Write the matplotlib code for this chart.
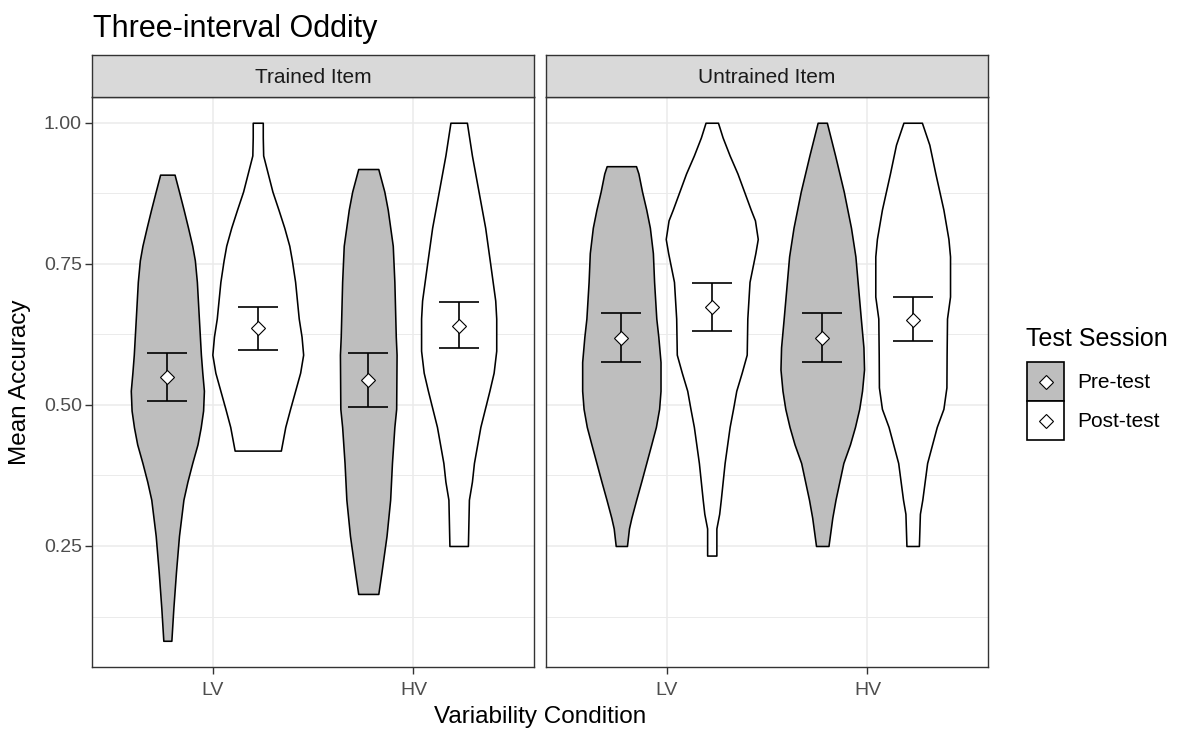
"""
Three-interval oddity: mean accuracy by variability condition, split by
trained / untrained item, pre-test vs post-test violins with mean +/- CI.
"""

import matplotlib.pyplot as plt
from matplotlib.patches import Rectangle

plt.rcParams["font.family"] = ["Liberation Sans", "DejaVu Sans"]

W_PX, H_PX = 1189, 731

CONDITIONS = ["LV", "HV"]
PANELS = ["Trained Item", "Untrained Item"]
SESSIONS = ["Pre-test", "Post-test"]
SESSION_FILL = {"Pre-test": "#BEBEBE", "Post-test": "#FFFFFF"}

# violin outlines: accuracy level and half-width (x units), bottom -> top
trained_lv_pre_y = [0.082, 0.14, 0.204, 0.268, 0.332, 0.364, 0.397, 0.43, 0.46, 0.49, 0.525,
                    0.557, 0.589, 0.653, 0.718, 0.756, 0.782, 0.814, 0.846, 0.878, 0.908]
trained_lv_pre_w = [0.02, 0.03, 0.043, 0.058, 0.08, 0.10, 0.124, 0.15, 0.166, 0.178, 0.182,
                    0.174, 0.167, 0.157, 0.147, 0.137, 0.124, 0.103, 0.081, 0.058, 0.036]

trained_lv_post_y = [0.419, 0.461, 0.493, 0.525, 0.557, 0.589, 0.621, 0.653, 0.718, 0.756,
                     0.782, 0.814, 0.846, 0.878, 0.91, 0.942, 0.974, 1.0]
trained_lv_post_w = [0.115, 0.137, 0.161, 0.186, 0.211, 0.226, 0.218, 0.204, 0.186, 0.17,
                     0.157, 0.132, 0.103, 0.073, 0.05, 0.027, 0.025, 0.025]

trained_hv_pre_y = [0.165, 0.204, 0.268, 0.332, 0.397, 0.461, 0.493, 0.589, 0.621, 0.718,
                    0.782, 0.846, 0.878, 0.918]
trained_hv_pre_w = [0.05, 0.066, 0.091, 0.109, 0.118, 0.13, 0.139, 0.141, 0.137, 0.13,
                    0.122, 0.097, 0.08, 0.05]

trained_hv_post_y = [0.25, 0.332, 0.364, 0.397, 0.461, 0.525, 0.557, 0.596, 0.653, 0.685,
                     0.75, 0.814, 0.878, 0.942, 1.0]
trained_hv_post_w = [0.046, 0.051, 0.066, 0.076, 0.108, 0.153, 0.174, 0.187, 0.187, 0.182,
                     0.157, 0.132, 0.099, 0.066, 0.041]

untrained_lv_pre_y = [0.25, 0.281, 0.3, 0.332, 0.364, 0.397, 0.43, 0.461, 0.493, 0.525,
                      0.576, 0.621, 0.653, 0.718, 0.769, 0.814, 0.846, 0.878, 0.91, 0.923]
untrained_lv_pre_w = [0.028, 0.038, 0.05, 0.074, 0.099, 0.124, 0.149, 0.172, 0.188, 0.195,
                      0.195, 0.184, 0.174, 0.163, 0.157, 0.142, 0.124, 0.103, 0.085, 0.073]

untrained_lv_post_y = [0.233, 0.281, 0.307, 0.332, 0.397, 0.461, 0.493, 0.525, 0.557, 0.589,
                       0.653, 0.718, 0.769, 0.794, 0.827, 0.846, 0.878, 0.91, 0.942, 0.974, 1.0]
untrained_lv_post_w = [0.023, 0.023, 0.037, 0.045, 0.064, 0.089, 0.106, 0.122, 0.149, 0.174,
                       0.177, 0.188, 0.217, 0.229, 0.215, 0.194, 0.161, 0.128, 0.089, 0.054, 0.031]

untrained_hv_pre_y = [0.25, 0.3, 0.332, 0.397, 0.43, 0.461, 0.493, 0.525, 0.563, 0.602,
                      0.653, 0.718, 0.763, 0.814, 0.878, 0.942, 1.0]
untrained_hv_pre_w = [0.031, 0.05, 0.066, 0.105, 0.138, 0.163, 0.184, 0.198, 0.208, 0.205,
                      0.192, 0.176, 0.165, 0.143, 0.107, 0.064, 0.023]

untrained_hv_post_y = [0.25, 0.307, 0.332, 0.397, 0.461, 0.493, 0.531, 0.589, 0.653, 0.692,
                       0.763, 0.794, 0.846, 0.91, 0.961, 1.0]
untrained_hv_post_w = [0.031, 0.036, 0.048, 0.072, 0.12, 0.153, 0.168, 0.169, 0.171, 0.186,
                       0.186, 0.178, 0.153, 0.113, 0.083, 0.046]

# means and confidence limits, ordered [LV, HV]
trained_pre_mean = [0.549, 0.545]
trained_pre_lo = [0.507, 0.497]
trained_pre_hi = [0.592, 0.592]
trained_post_mean = [0.636, 0.640]
trained_post_lo = [0.598, 0.601]
trained_post_hi = [0.674, 0.683]

untrained_pre_mean = [0.619, 0.619]
untrained_pre_lo = [0.576, 0.576]
untrained_pre_hi = [0.662, 0.662]
untrained_post_mean = [0.674, 0.651]
untrained_post_lo = [0.631, 0.613]
untrained_post_hi = [0.716, 0.692]

VIOLINS = {
    ("Trained Item", "LV", "Pre-test"): (trained_lv_pre_y, trained_lv_pre_w),
    ("Trained Item", "LV", "Post-test"): (trained_lv_post_y, trained_lv_post_w),
    ("Trained Item", "HV", "Pre-test"): (trained_hv_pre_y, trained_hv_pre_w),
    ("Trained Item", "HV", "Post-test"): (trained_hv_post_y, trained_hv_post_w),
    ("Untrained Item", "LV", "Pre-test"): (untrained_lv_pre_y, untrained_lv_pre_w),
    ("Untrained Item", "LV", "Post-test"): (untrained_lv_post_y, untrained_lv_post_w),
    ("Untrained Item", "HV", "Pre-test"): (untrained_hv_pre_y, untrained_hv_pre_w),
    ("Untrained Item", "HV", "Post-test"): (untrained_hv_post_y, untrained_hv_post_w),
}
SUMMARY = {
    ("Trained Item", "Pre-test"): (trained_pre_mean, trained_pre_lo, trained_pre_hi),
    ("Trained Item", "Post-test"): (trained_post_mean, trained_post_lo, trained_post_hi),
    ("Untrained Item", "Pre-test"): (untrained_pre_mean, untrained_pre_lo, untrained_pre_hi),
    ("Untrained Item", "Post-test"): (untrained_post_mean, untrained_post_lo, untrained_post_hi),
}

DODGE = 0.225
CAP = 0.1
GRID = "#EBEBEB"
BORDER = "#333333"
TICK_TXT = "#4D4D4D"


def px_axes(fig, x0, y0, x1, y1):
    """Axes placed by pixel box (top-left origin)."""
    return fig.add_axes([x0 / W_PX, 1 - y1 / H_PX, (x1 - x0) / W_PX, (y1 - y0) / H_PX])


def draw_panel(ax, panel, show_y):
    ax.set_xlim(0.4, 2.6)
    ax.set_ylim(0.035, 1.0465)
    ax.set_yticks([0.25, 0.5, 0.75, 1.0])
    ax.set_yticks([0.125, 0.375, 0.625, 0.875], minor=True)
    ax.set_xticks([1, 2])
    ax.set_xticklabels(CONDITIONS)
    ax.grid(which="major", color=GRID, lw=1.1)
    ax.grid(which="minor", axis="y", color=GRID, lw=0.7)
    ax.set_axisbelow(True)
    for sp in ax.spines.values():
        sp.set_color(BORDER)
        sp.set_linewidth(1.0)
    ax.tick_params(axis="both", which="major", length=4.8, color=BORDER, width=1.0,
                   labelsize=14, labelcolor=TICK_TXT)
    ax.tick_params(axis="x", which="major", pad=5.5)
    ax.tick_params(axis="y", which="major", pad=2.5)
    ax.tick_params(axis="y", which="minor", length=0)
    if not show_y:
        ax.tick_params(axis="y", which="major", length=0, labelleft=False)
    else:
        ax.set_yticklabels(["0.25", "0.50", "0.75", "1.00"])

    for i, cond in enumerate(CONDITIONS):
        xc = i + 1
        for session, off in zip(SESSIONS, [-DODGE, DODGE]):
            ys, ws = VIOLINS[(panel, cond, session)]
            xm = xc + off
            ax.fill_betweenx(ys, [xm - w for w in ws], [xm + w for w in ws],
                             facecolor=SESSION_FILL[session], edgecolor="black",
                             lw=1.15, zorder=2)
            mean, lo, hi = SUMMARY[(panel, session)]
            ax.vlines(xm, lo[i], hi[i], color="black", lw=1.2, zorder=3)
            ax.hlines([lo[i], hi[i]], xm - CAP, xm + CAP, color="black", lw=1.2, zorder=3)
            ax.plot(xm, mean[i], marker="D", ms=7.2, mfc="white", mec="black", mew=0.8,
                    zorder=4)


def draw_strip(fig, x0, x1, label):
    sax = px_axes(fig, x0, 55, x1, 96.5)
    sax.set_facecolor("#D9D9D9")
    sax.set_xticks([])
    sax.set_yticks([])
    for sp in sax.spines.values():
        sp.set_color(BORDER)
        sp.set_linewidth(1.0)
    sax.text(0.5, 0.46, label, ha="center", va="center", fontsize=15, color="#1A1A1A",
             transform=sax.transAxes)


def main():
    fig = plt.figure(figsize=(W_PX / 100, H_PX / 100), dpi=100)

    boxes = [(92, 534), (546, 988)]
    for k, (panel, (x0, x1)) in enumerate(zip(PANELS, boxes)):
        ax = px_axes(fig, x0, 96.5, x1, 667.3)
        draw_panel(ax, panel, show_y=(k == 0))
        draw_strip(fig, x0, x1, panel)

    # overlay in pixel coordinates for titles and legend
    ov = fig.add_axes([0, 0, 1, 1], zorder=10)
    ov.set_xlim(0, W_PX)
    ov.set_ylim(H_PX, 0)
    ov.axis("off")

    ov.text(93, 37, "Three-interval Oddity", fontsize=22, ha="left", va="baseline")
    ov.text(540, 717, "Variability Condition", fontsize=17.5, ha="center", va="center")
    ov.text(20, 382, "Mean Accuracy", fontsize=17.5, ha="center", va="center", rotation=90)

    ov.text(1026, 339, "Test Session", fontsize=18, ha="left", va="center")
    key_top = [362, 401]
    for session, top in zip(SESSIONS, key_top):
        ov.add_patch(Rectangle((1027, top), 37, 39, facecolor=SESSION_FILL[session],
                               edgecolor="black", lw=1.2))
        ov.plot(1045.5, top + 19.5, marker="D", ms=6.8, mfc="white", mec="black", mew=0.8)
        ov.text(1077, top + 20.5, session, fontsize=15, ha="left", va="center")

    fig.savefig("out.png", dpi=100)
    plt.close(fig)


if __name__ == "__main__":
    main()
